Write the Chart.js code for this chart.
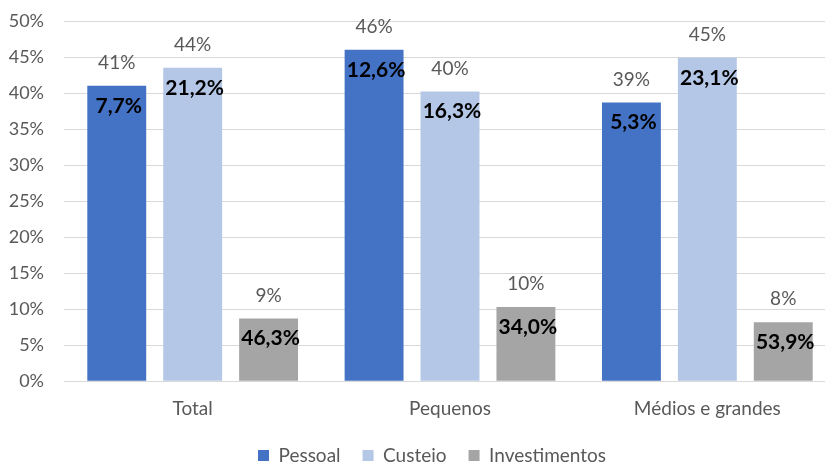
<!DOCTYPE html>
<html>
<head>
<meta charset="utf-8">
<script src="https://cdn.jsdelivr.net/npm/chart.js@4/dist/chart.umd.min.js"></script>
<style>
  html, body { margin: 0; padding: 0; background: #fff; overflow: hidden; }
  #wrap { width: 864px; height: 466px; }
</style>
</head>
<body>
<div id="wrap"><canvas id="chart" width="864" height="466"></canvas></div>
<script>
// Chart data
const categories = ['Total', 'Pequenos', 'Médios e grandes'];
const pessoal = [41.0, 46.0, 38.7];
const custeio = [43.5, 40.2, 44.9];
const investimentos = [8.7, 10.3, 8.2];

// bold labels shown inside the bars
const pessoalInner = ['7,7%', '12,6%', '5,3%'];
const custeioInner = ['21,2%', '16,3%', '23,1%'];
const investimentosInner = ['46,3%', '34,0%', '53,9%'];

const yTicks = [0, 5, 10, 15, 20, 25, 30, 35, 40, 45, 50];

const FONT = 'Lato, "Open Sans", sans-serif';
const GREY_TEXT = '#595959';

// Draw value labels above and inside each bar
const barLabels = {
    id: 'barLabels',
    afterDatasetsDraw(chart) {
        const ctx = chart.ctx;
        ctx.save();
        ctx.textAlign = 'center';
        ctx.textBaseline = 'middle';
        chart.data.datasets.forEach((ds, i) => {
            const meta = chart.getDatasetMeta(i);
            meta.data.forEach((bar, j) => {
                ctx.font = '19px ' + FONT;
                ctx.fillStyle = GREY_TEXT;
                ctx.fillText(Math.round(ds.data[j]) + '%', bar.x, bar.y - 23);
                ctx.font = 'bold 21px ' + FONT;
                ctx.fillStyle = '#000';
                ctx.fillText(ds.inner[j], bar.x + 2, bar.y + 20);
            });
        });
        ctx.restore();
    }
};

// tighten the legend box and re-centre it on the whole canvas
const legendTrim = {
    id: 'legendTrim',
    beforeInit(chart) {
        const lg = chart.legend;
        if (!lg) return;
        const fit = lg.fit;
        lg.fit = function () {
            fit.call(this);
            this.height -= 21;
        };
    },
    afterLayout(chart) {
        const lg = chart.legend;
        if (!lg) return;
        lg.top -= 12;
        lg.bottom = chart.height;
        lg.left += 14;
        lg.right += 14;
    }
};

const el = document.getElementById('chart');
new Chart(el, {
    type: 'bar',
    data: {
        labels: categories,
        datasets: [
            { label: 'Pessoal', data: pessoal, inner: pessoalInner, backgroundColor: '#4472C4' },
            { label: 'Custeio', data: custeio, inner: custeioInner, backgroundColor: '#B4C7E7' },
            { label: 'Investimentos', data: investimentos, inner: investimentosInner, backgroundColor: '#A5A5A5' }
        ]
    },
    options: {
        responsive: false,
        animation: false,
        categoryPercentage: 0.885,
        barPercentage: 0.776,
        layout: { padding: { top: 21, right: 28, left: 0, bottom: 0 } },
        scales: {
            y: {
                min: 0,
                max: 50,
                afterBuildTicks: (axis) => { axis.ticks = yTicks.map(v => ({ value: v })); },
                afterFit: (axis) => {
                    axis.width = 64;
                    axis.paddingTop = 0;
                    axis.paddingBottom = 0;
                },
                ticks: {
                    callback: (v) => v + '%',
                    color: GREY_TEXT,
                    font: { family: FONT, size: 18 },
                    padding: 20
                },
                grid: { color: '#D9D9D9', lineWidth: 1, drawTicks: false },
                border: { display: false }
            },
            x: {
                ticks: {
                    color: GREY_TEXT,
                    font: { family: FONT, size: 19 },
                    padding: 16
                },
                grid: { display: false, drawTicks: false },
                border: { display: true, color: '#D9D9D9', width: 1 }
            }
        },
        plugins: {
            legend: {
                position: 'bottom',
                labels: {
                    color: GREY_TEXT,
                    font: { family: FONT, size: 19 },
                    boxWidth: 11,
                    boxHeight: 11,
                    padding: 22
                }
            },
            tooltip: { enabled: false }
        }
    },
    plugins: [barLabels, legendTrim]
});
</script>
</body>
</html>
